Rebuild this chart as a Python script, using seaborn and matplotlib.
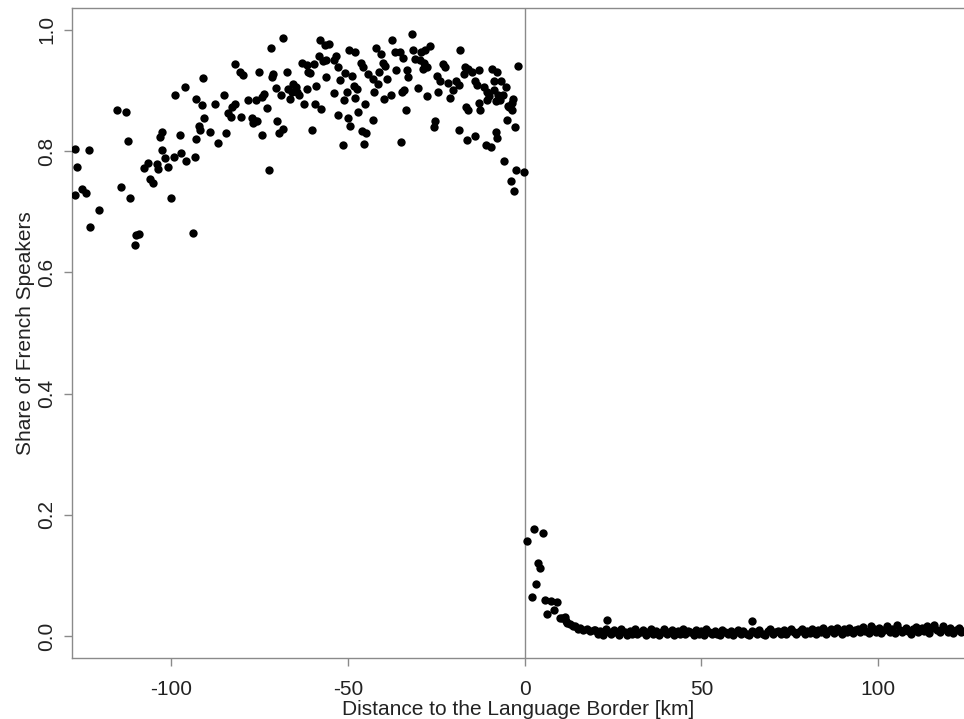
import matplotlib
matplotlib.use("Agg")
import matplotlib.pyplot as plt
import seaborn as sns
import pandas as pd

sns.set_theme(style="white")
plt.rcParams["font.family"] = ["Liberation Sans", "DejaVu Sans"]

# French-speaking side (distance < 0)
left_x = [
    -90.9, -96.1, -98.9, -92.9, -91.3, -87.6, -115.2, -112.9, -90.6, -92.0,
    -91.7, -89.1, -102.5, -103.1, -97.5, -93.1, -112.2, -86.7, -127.2, -123.2,
    -102.7, -97.2, -99.3, -101.6, -93.3, -95.8, -106.4, -103.9, -107.7, -103.6,
    -100.8, -126.6, -105.9, -105.2, -125.2, -124.0, -127.1, -114.3, -111.7, -99.9,
    -120.5, -123.0, -109.1, -109.8, -110.1, -93.9, -68.4, -71.8, -57.9, -56.6,
    -55.2, -49.7, -48.1, -82.0, -80.5, -79.8, -75.1, -71.3, -71.5, -67.3,
    -62.9, -61.7, -59.7, -58.2, -56.9, -56.2, -53.3, -53.9, -52.7, -46.4,
    -45.8, -44.4, -61.4, -60.7, -50.8, -48.7, -56.2, -52.2, -85.1, -82.0,
    -82.9, -83.8, -83.0, -80.2, -78.3, -76.0, -74.3, -73.7, -72.9, -70.4,
    -69.0, -66.8, -65.4, -64.6, -65.9, -64.3, -66.3, -63.7, -61.5, -58.9,
    -62.3, -59.2, -57.6, -53.8, -50.2, -51.0, -47.9, -48.4, -47.4, -45.2,
    -47.1, -52.7, -49.9, -49.3, -46.0, -44.8, -45.5, -51.3, -77.2, -76.4,
    -76.9, -75.8, -70.1, -68.3, -69.4, -74.3, -60.1, -84.5, -72.4, -31.9,
    -37.5, -42.0, -40.6, -36.6, -35.2, -34.5, -31.7, -29.3, -28.2, -26.8,
    -31.0, -29.6, -28.4, -28.8, -27.7, -18.3, -40.2, -39.4, -36.3, -33.2,
    -41.1, -42.9, -38.8, -33.0, -41.4, -23.0, -22.5, -24.8, -23.9, -16.9,
    -15.9, -14.9, -13.0, -17.2, -9.3, -7.7, -1.9, -21.6, -19.5, -18.7,
    -20.3, -13.9, -13.5, -11.5, -8.8, -6.7, -5.3, -10.7, -10.0, -8.6,
    -7.4, -6.0, -10.7, -8.1, -6.9, -3.2, -3.6, -4.8, -4.3, -3.5,
    -12.8, -12.5, -16.7, -15.9, -21.1, -30.2, -27.5, -24.4, -34.6, -34.0,
    -37.9, -39.9, -42.6, -33.5, -42.9, -25.3, -25.6, -18.6, -16.2, -13.9,
    -8.1, -7.9, -10.9, -9.5, -5.0, -2.6, -34.9, -5.9, -2.4, -0.3,
    -3.9, -3.1,
]
left_y = [
    0.920, 0.905, 0.892, 0.886, 0.876, 0.878, 0.867, 0.865, 0.854, 0.842,
    0.835, 0.832, 0.831, 0.823, 0.826, 0.820, 0.817, 0.814, 0.804, 0.802,
    0.802, 0.797, 0.790, 0.788, 0.791, 0.784, 0.781, 0.779, 0.772, 0.771,
    0.773, 0.774, 0.754, 0.748, 0.738, 0.731, 0.727, 0.741, 0.723, 0.723,
    0.703, 0.674, 0.663, 0.662, 0.645, 0.665, 0.987, 0.970, 0.983, 0.975,
    0.977, 0.966, 0.963, 0.943, 0.930, 0.926, 0.931, 0.927, 0.922, 0.930,
    0.946, 0.942, 0.943, 0.957, 0.949, 0.950, 0.957, 0.950, 0.939, 0.945,
    0.939, 0.927, 0.930, 0.929, 0.929, 0.924, 0.922, 0.917, 0.893, 0.877,
    0.872, 0.862, 0.856, 0.856, 0.884, 0.884, 0.889, 0.894, 0.871, 0.904,
    0.893, 0.902, 0.910, 0.906, 0.898, 0.898, 0.886, 0.893, 0.903, 0.908,
    0.877, 0.877, 0.869, 0.895, 0.898, 0.884, 0.888, 0.908, 0.903, 0.878,
    0.864, 0.859, 0.854, 0.841, 0.833, 0.830, 0.812, 0.810, 0.854, 0.850,
    0.846, 0.849, 0.849, 0.837, 0.830, 0.826, 0.835, 0.830, 0.768, 0.993,
    0.983, 0.970, 0.960, 0.963, 0.964, 0.954, 0.966, 0.963, 0.967, 0.974,
    0.952, 0.950, 0.945, 0.935, 0.938, 0.967, 0.945, 0.941, 0.934, 0.934,
    0.930, 0.919, 0.919, 0.922, 0.910, 0.943, 0.938, 0.924, 0.915, 0.939,
    0.935, 0.930, 0.933, 0.927, 0.935, 0.930, 0.941, 0.912, 0.916, 0.909,
    0.901, 0.916, 0.909, 0.906, 0.915, 0.915, 0.906, 0.898, 0.891, 0.900,
    0.893, 0.893, 0.884, 0.882, 0.884, 0.886, 0.879, 0.875, 0.872, 0.868,
    0.880, 0.867, 0.872, 0.867, 0.887, 0.904, 0.891, 0.898, 0.897, 0.900,
    0.893, 0.886, 0.897, 0.867, 0.851, 0.850, 0.840, 0.835, 0.818, 0.825,
    0.831, 0.821, 0.810, 0.806, 0.852, 0.840, 0.815, 0.784, 0.768, 0.765,
    0.750, 0.734,
]

# German-speaking side, just past the border
near_x = [0.8, 2.7, 5.2, 3.7, 4.4, 3.3, 2.2, 5.8, 7.4, 9.3,
          8.3, 6.3, 10.0, 10.5, 11.5, 11.8, 12.1, 12.9, 13.6, 14.3,
          15.0, 15.7, 16.5, 17.6, 18.4, 19.5, 23.3, 64.4]
near_y = [0.156, 0.177, 0.170, 0.120, 0.113, 0.086, 0.064, 0.060, 0.057, 0.056,
          0.043, 0.037, 0.029, 0.030, 0.032, 0.024, 0.021, 0.020, 0.016, 0.017,
          0.012, 0.014, 0.010, 0.012, 0.008, 0.010, 0.026, 0.025]

# flat band further inside the German-speaking side
band_x = [
    20.0, 20.8, 21.4, 22.3, 22.9, 23.8, 24.4, 25.3, 25.9, 26.8,
    27.4, 28.3, 28.9, 29.8, 30.4, 31.3, 31.9, 32.8, 33.4, 34.3,
    34.9, 35.8, 36.4, 37.3, 37.9, 38.8, 39.4, 40.3, 40.9, 41.8,
    42.4, 43.3, 43.9, 44.8, 45.4, 46.3, 46.9, 47.8, 48.4, 49.3,
    49.9, 50.8, 51.4, 52.3, 52.9, 53.8, 54.4, 55.3, 55.9, 56.8,
    57.4, 58.3, 58.9, 59.8, 60.4, 61.3, 61.9, 62.8, 63.4, 64.3,
    64.9, 65.8, 66.4, 67.3, 67.9, 68.8, 69.4, 70.3, 70.9, 71.8,
    72.4, 73.3, 73.9, 74.8, 75.4, 76.3, 76.9, 77.8, 78.4, 79.3,
    79.9, 80.8, 81.4, 82.3, 82.9, 83.8, 84.4, 85.3, 85.9, 86.8,
    87.4, 88.3, 88.9, 89.8, 90.4, 91.3, 91.9, 92.8, 93.4, 94.3,
    94.9, 95.8, 96.4, 97.3, 97.9, 98.8, 99.4, 100.3, 100.9, 101.8,
    102.4, 103.3, 103.9, 104.8, 105.4, 106.3, 106.9, 107.8, 108.4, 109.3,
    109.9, 110.8, 111.4, 112.3, 112.9, 113.8, 114.4, 115.3, 115.9, 116.8,
    117.4, 118.3, 118.9, 119.8, 120.4, 121.3, 121.9, 122.8, 123.4, 124.2,
]
band_y = [
    0.010, 0.004, 0.008, 0.002, 0.011, 0.006, 0.003, 0.010, 0.007, 0.002,
    0.012, 0.006, 0.002, 0.009, 0.004, 0.011, 0.003, 0.007, 0.010, 0.002,
    0.006, 0.011, 0.004, 0.009, 0.002, 0.007, 0.012, 0.003, 0.006, 0.010,
    0.002, 0.008, 0.004, 0.011, 0.003, 0.009, 0.006, 0.001, 0.010, 0.004,
    0.008, 0.002, 0.011, 0.006, 0.003, 0.009, 0.004, 0.002, 0.010, 0.006,
    0.003, 0.009, 0.001, 0.006, 0.010, 0.003, 0.008, 0.004, 0.002, 0.009,
    0.006, 0.003, 0.010, 0.004, 0.002, 0.008, 0.011, 0.003, 0.006, 0.009,
    0.004, 0.010, 0.003, 0.008, 0.012, 0.006, 0.003, 0.009, 0.011, 0.004,
    0.009, 0.005, 0.012, 0.003, 0.010, 0.007, 0.013, 0.004, 0.009, 0.011,
    0.005, 0.013, 0.008, 0.004, 0.011, 0.007, 0.014, 0.005, 0.010, 0.012,
    0.006, 0.015, 0.009, 0.005, 0.017, 0.011, 0.007, 0.014, 0.005, 0.010,
    0.016, 0.007, 0.012, 0.005, 0.018, 0.010, 0.006, 0.014, 0.009, 0.004,
    0.011, 0.015, 0.006, 0.013, 0.009, 0.017, 0.005, 0.014, 0.019, 0.010,
    0.006, 0.016, 0.011, 0.007, 0.014, 0.005, 0.010, 0.013, 0.006, 0.009,
]

x_ticks = [-100, -50, 0, 50, 100]
y_ticks = [0.0, 0.2, 0.4, 0.6, 0.8, 1.0]

df = pd.DataFrame({
    "dist": left_x + near_x + band_x,
    "share": left_y + near_y + band_y,
})

_AXIS = "#8a8a8a"
_TXT = "#222222"

fig = plt.figure(figsize=(9.64, 7.19), dpi=100)
ax = fig.add_axes([0.0752, 0.0842, 0.9248, 0.9047])

ax.axvline(0, color=_AXIS, lw=1.0, zorder=1)
sns.scatterplot(data=df, x="dist", y="share", color="black", s=36,
                linewidth=0, ax=ax, zorder=3)

ax.set_xlim(-127.9, 124.3)
ax.set_ylim(-0.037, 1.036)
ax.set_xticks(x_ticks)
ax.set_xticklabels([str(t) for t in x_ticks])
ax.set_yticks(y_ticks)
ax.set_yticklabels([f"{t:.1f}" for t in y_ticks], rotation=90, va="center")

for side in ("left", "bottom", "top"):
    ax.spines[side].set_color(_AXIS)
    ax.spines[side].set_linewidth(1.0)
ax.spines["right"].set_visible(False)

ax.tick_params(axis="both", direction="out", length=5.5, width=1.0,
               color=_AXIS, labelsize=15, labelcolor=_TXT)
ax.tick_params(axis="x", bottom=True, pad=10)
ax.tick_params(axis="y", left=True, pad=6)

ax.set_xlabel("Distance to the Language Border [km]", fontsize=15,
              color=_TXT, labelpad=1)
ax.set_ylabel("Share of French Speakers", fontsize=15, color=_TXT,
              labelpad=2)
ax.grid(False)

fig.savefig("out.png", dpi=100)
